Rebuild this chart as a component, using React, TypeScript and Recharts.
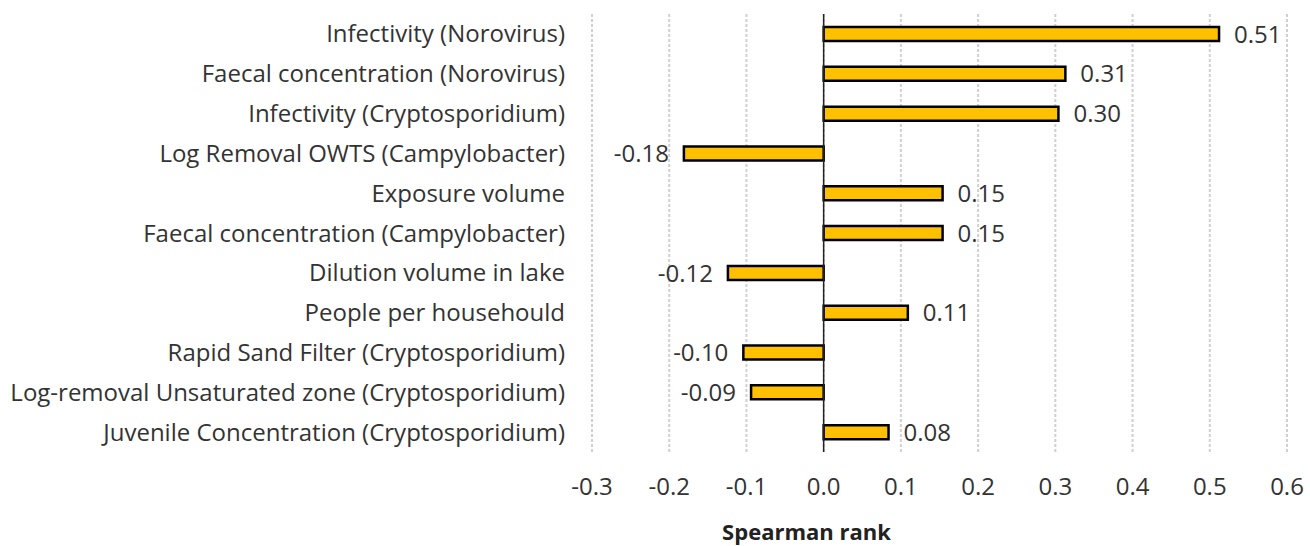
import React from "react";
import {
  BarChart,
  Bar,
  XAxis,
  YAxis,
  CartesianGrid,
  ReferenceLine,
  LabelList,
} from "recharts";

const categories = [
  "Infectivity (Norovirus)",
  "Faecal concentration (Norovirus)",
  "Infectivity (Cryptosporidium)",
  "Log Removal OWTS (Campylobacter)",
  "Exposure volume",
  "Faecal concentration (Campylobacter)",
  "Dilution volume in lake",
  "People per househould",
  "Rapid Sand Filter (Cryptosporidium)",
  "Log-removal Unsaturated zone (Cryptosporidium)",
  "Juvenile Concentration (Cryptosporidium)",
];

const spearman = [0.512, 0.313, 0.304, -0.181, 0.154, 0.154, -0.124, 0.109, -0.104, -0.094, 0.084];

const xTicks = [-0.3, -0.2, -0.1, 0.0, 0.1, 0.2, 0.3, 0.4, 0.5, 0.6];

const data = categories.map((name, i) => ({ name, value: spearman[i] }));

const FONT = "'Open Sans', sans-serif";
const TEXT = "#333333";

function ValueLabel(props: any) {
  const { x, y, width, height, value } = props;
  const v = Number(value);
  const end = x + width;
  const neg = v < 0;
  return (
    <text
      x={neg ? Math.min(x, end) - 15 : Math.max(x, end) + 15}
      y={y + height / 2}
      dy="0.36em"
      textAnchor={neg ? "end" : "start"}
      fontSize={24}
      fontFamily={FONT}
      fill={TEXT}
    >
      {v.toFixed(2)}
    </text>
  );
}

export default function App() {
  return (
    <div style={{ position: "absolute", left: 0, top: 0, width: 1310, height: 546, background: "#fff" }}>
      <BarChart
        width={1310}
        height={546}
        data={data}
        layout="vertical"
        margin={{ top: 14, right: 23, left: 0, bottom: 44 }}
        barCategoryGap={0}
      >
        <CartesianGrid horizontal={false} stroke="#d0d0d0" strokeWidth={2} strokeDasharray="3 2" />
        <XAxis
          type="number"
          domain={[-0.3, 0.6]}
          ticks={xTicks}
          tickFormatter={(v: number) => v.toFixed(1)}
          axisLine={false}
          tickLine={false}
          tickSize={0}
          tickMargin={26}
          height={50}
          tick={{ fontSize: 24, fontFamily: FONT, fill: TEXT }}
          label={{
            value: "Spearman rank",
            position: "insideBottom",
            dx: -133,
            offset: -38,
            style: { fontSize: 22, fontWeight: 700, fontFamily: FONT, fill: "#222" },
          }}
        />
        <YAxis
          type="category"
          dataKey="name"
          width={592}
          axisLine={false}
          tickLine={false}
          tickSize={0}
          tickMargin={27}
          interval={0}
          tick={{ fontSize: 24, fontFamily: FONT, fill: TEXT }}
        />
        <ReferenceLine x={0} stroke="#222" strokeWidth={1.5} />
        <Bar
          dataKey="value"
          fill="#FFC000"
          stroke="#000"
          strokeWidth={2.5}
          barSize={14}
          isAnimationActive={false}
        >
          <LabelList dataKey="value" content={<ValueLabel />} />
        </Bar>
      </BarChart>
    </div>
  );
}
